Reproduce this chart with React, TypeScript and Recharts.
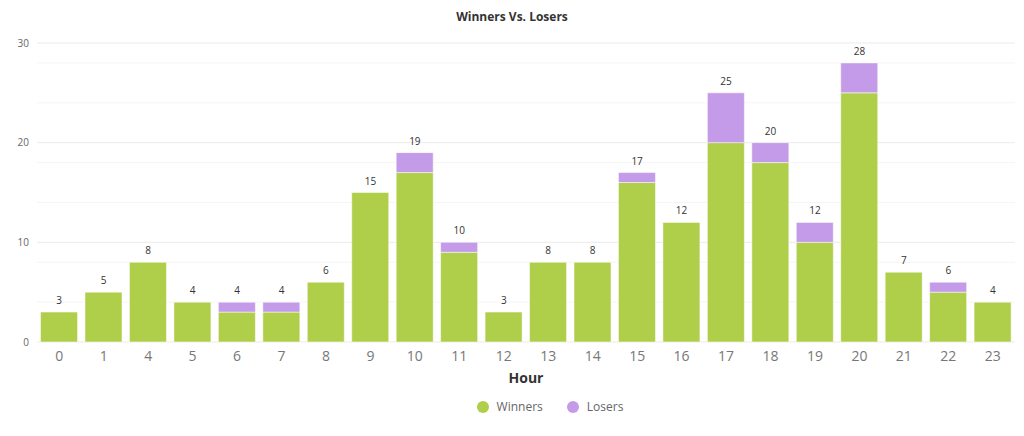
import { Bar, ComposedChart, Line, XAxis, YAxis, CartesianGrid, LabelList } from 'recharts';

const hours = ['0', '1', '4', '5', '6', '7', '8', '9', '10', '11', '12', '13', '14', '15', '16', '17', '18', '19', '20', '21', '22', '23'];
const winners = [3, 5, 8, 4, 3, 3, 6, 15, 17, 9, 3, 8, 8, 16, 12, 20, 18, 10, 25, 7, 5, 4];
const losers = [0, 0, 0, 0, 1, 1, 0, 0, 2, 1, 0, 0, 0, 1, 0, 5, 2, 2, 3, 0, 1, 0];
const majorTicks = [0, 10, 20, 30];
const minorTicks = [2, 4, 6, 8, 12, 14, 16, 18, 22, 24, 26, 28];

const GREEN = '#afce49';
const PURPLE = '#c49be8';

const legendItems = [
  { name: 'Winners', color: GREEN },
  { name: 'Losers', color: PURPLE },
];

export default function App() {
  const chartData = hours.map((h, i) => ({
    hour: h,
    Winners: winners[i],
    Losers: losers[i],
    total: winners[i] + losers[i],
  }));

  return (
    <div style={{ position: 'absolute', left: 0, top: 0, width: 1024, height: 436, background: '#fff', fontFamily: 'Open Sans' }}>
      <div style={{ position: 'absolute', top: 8, left: 0, width: 1024, textAlign: 'center', fontSize: 12, fontWeight: 'bold', color: '#333' }}>
        Winners Vs. Losers
      </div>
      <ComposedChart width={1024} height={436} data={chartData} margin={{ top: 43, right: 9, left: 0, bottom: 48 }} barCategoryGap="8%">
        <CartesianGrid vertical={false} horizontalValues={minorTicks} stroke="#f5f5f5" />
        <CartesianGrid vertical={false} horizontalValues={majorTicks} stroke="#ebebeb" />
        <XAxis dataKey="hour" axisLine={false} tickLine={false} tick={{ fontSize: 14, fill: '#777' }} tickMargin={3} height={46}
          label={{ value: 'Hour', position: 'insideBottom', offset: 5, style: { fontSize: 14, fontWeight: 'bold', fill: '#333' } }} />
        <YAxis domain={[0, 30]} ticks={majorTicks} axisLine={false} tickLine={false} width={37} tick={{ fontSize: 10, fill: '#666' }} />
        <Bar dataKey="Winners" stackId="a" fill={GREEN} stroke="rgba(255,255,255,0.5)" isAnimationActive={false} />
        <Bar dataKey="Losers" stackId="a" fill={PURPLE} stroke="rgba(255,255,255,0.5)" isAnimationActive={false} />
        <Line dataKey="total" stroke="none" dot={false} activeDot={false} legendType="none" isAnimationActive={false}>
          <LabelList dataKey="total" position="top" offset={8} style={{ fontSize: 10, fill: '#333' }} />
        </Line>
      </ComposedChart>
      <div style={{ position: 'absolute', top: 398, left: 0, width: 1024, display: 'flex', justifyContent: 'center', gap: 24, fontSize: 12, color: '#666', paddingLeft: 76, boxSizing: 'border-box' }}>
        {legendItems.map(item => (
          <span key={item.name} style={{ display: 'flex', alignItems: 'center' }}>
            <span style={{ width: 12, height: 12, borderRadius: 6, background: item.color, marginRight: 8, display: 'inline-block' }} />
            {item.name}
          </span>
        ))}
      </div>
    </div>
  );
}
